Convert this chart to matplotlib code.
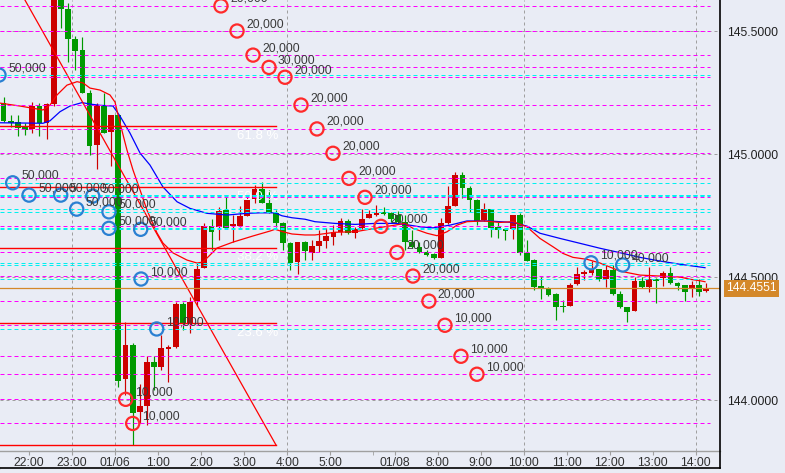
import matplotlib
matplotlib.use('Agg')
import matplotlib.pyplot as plt
import numpy as np
from matplotlib.lines import Line2D

plt.rcParams['font.family'] = ['Liberation Sans', 'DejaVu Sans']

# ---------------- data (10-minute candles, index 0 = 01/06 0:00) ----------------
candle_idx = list(range(-16, 83))
opens = [145.207, 145.136, 145.132, 145.110, 145.101, 145.196, 145.126, 145.204, 145.660, 145.589,
         145.467, 145.424, 145.250, 145.038, 145.196, 145.092, 145.160, 144.085, 144.225, 143.953,
         143.978, 144.155, 144.135, 144.210, 144.216, 144.391, 144.310, 144.403, 144.538, 144.708,
         144.705, 144.773, 144.708, 144.708, 144.750, 144.818, 144.859, 144.802, 144.762, 144.721,
         144.639, 144.563, 144.642, 144.597, 144.628, 144.647, 144.665, 144.685, 144.729, 144.681,
         144.700, 144.740, 144.753, 144.764, 144.761, 144.753, 144.725, 144.643, 144.624, 144.604,
         144.593, 144.579, 144.719, 144.791, 144.916, 144.864, 144.814, 144.733, 144.777, 144.705,
         144.692, 144.696, 144.753, 144.597, 144.570, 144.464, 144.455, 144.432, 144.382, 144.383,
         144.471, 144.515, 144.516, 144.532, 144.492, 144.529, 144.431, 144.378, 144.364, 144.486,
         144.462, 144.493, 144.496, 144.518, 144.478, 144.469, 144.451, 144.469, 144.445]
highs = [145.234, 145.160, 145.160, 145.126, 145.214, 145.208, 145.208, 145.688, 145.708, 145.615,
         145.481, 145.475, 145.261, 145.208, 145.248, 145.160, 145.162, 144.318, 144.233, 144.066,
         144.180, 144.180, 144.265, 144.225, 144.399, 144.399, 144.420, 144.558, 144.721, 144.737,
         144.786, 144.830, 144.753, 144.790, 144.826, 144.875, 144.888, 144.855, 144.773, 144.725,
         144.643, 144.643, 144.647, 144.651, 144.692, 144.700, 144.712, 144.741, 144.737, 144.705,
         144.777, 144.773, 144.794, 144.787, 144.765, 144.769, 144.753, 144.692, 144.645, 144.611,
         144.598, 144.741, 144.872, 144.929, 144.929, 144.871, 144.818, 144.802, 144.777, 144.726,
         144.700, 144.753, 144.761, 144.651, 144.574, 144.501, 144.460, 144.436, 144.408, 144.478,
         144.543, 144.529, 144.567, 144.533, 144.550, 144.550, 144.445, 144.379, 144.502, 144.502,
         144.540, 144.497, 144.527, 144.543, 144.481, 144.469, 144.486, 144.492, 144.475]
lows = [145.133, 145.110, 145.074, 145.078, 145.085, 145.074, 145.061, 145.196, 145.512, 145.376,
        145.342, 145.249, 144.997, 144.939, 145.086, 144.952, 144.054, 144.021, 143.818, 143.908,
        143.899, 144.042, 144.123, 144.074, 144.212, 144.286, 144.273, 144.383, 144.538, 144.611,
        144.651, 144.696, 144.643, 144.706, 144.749, 144.802, 144.800, 144.761, 144.704, 144.611,
        144.529, 144.513, 144.570, 144.570, 144.604, 144.619, 144.631, 144.672, 144.676, 144.661,
        144.698, 144.739, 144.751, 144.753, 144.725, 144.716, 144.611, 144.619, 144.598, 144.586,
        144.574, 144.578, 144.716, 144.790, 144.822, 144.766, 144.712, 144.729, 144.665, 144.661,
        144.651, 144.655, 144.590, 144.566, 144.448, 144.412, 144.424, 144.326, 144.360, 144.383,
        144.469, 144.489, 144.509, 144.486, 144.462, 144.428, 144.375, 144.319, 144.363, 144.456,
        144.441, 144.397, 144.464, 144.472, 144.448, 144.405, 144.421, 144.424, 144.441]
closes = [145.136, 145.128, 145.105, 145.099, 145.196, 145.128, 145.204, 145.660, 145.589, 145.467,
          145.421, 145.250, 145.034, 145.200, 145.088, 145.160, 144.079, 144.225, 143.949, 143.977,
          144.155, 144.135, 144.212, 144.216, 144.391, 144.310, 144.399, 144.533, 144.708, 144.684,
          144.770, 144.700, 144.716, 144.750, 144.814, 144.859, 144.802, 144.762, 144.721, 144.639,
          144.559, 144.643, 144.607, 144.628, 144.647, 144.668, 144.685, 144.729, 144.679, 144.696,
          144.737, 144.757, 144.762, 144.756, 144.737, 144.725, 144.642, 144.624, 144.601, 144.590,
          144.577, 144.719, 144.791, 144.916, 144.864, 144.814, 144.729, 144.777, 144.699, 144.692,
          144.690, 144.753, 144.597, 144.567, 144.459, 144.455, 144.428, 144.380, 144.380, 144.469,
          144.513, 144.516, 144.532, 144.492, 144.529, 144.431, 144.378, 144.360, 144.486, 144.459,
          144.492, 144.485, 144.518, 144.475, 144.464, 144.441, 144.469, 144.441, 144.4551]

# moving averages (candle index, price)
ma_fast_t = [-16.5, -13.71, -10.5, -9.53, -8.55, -7.16, -5.76, -4.92, -3.95, -2.55, -1.16, -0.46, 0.24,
             1.21, 2.05, 3.03, 4.0, 5.4, 6.23, 7.63, 9.58, 10.98, 11.81, 13.77, 16.0, 18.79, 21.16,
             21.86, 22.97, 24.23, 26.04, 27.43, 30.22, 33.01, 35.8, 38.59, 39.99, 41.1, 43.05, 44.45,
             45.84, 47.24, 48.63, 50.86, 53.24, 55.05, 57.0, 58.81, 60.63, 62.02, 63.41, 65.37, 67.18,
             69.97, 72.76, 75.55, 78.34, 79.74, 81.13, 81.83]
ma_fast_p = [145.208, 145.196, 145.180, 145.200, 145.241, 145.281, 145.295, 145.290, 145.269, 145.261,
             145.241, 145.212, 145.127, 145.017, 144.936, 144.855, 144.773, 144.680, 144.639, 144.599,
             144.570, 144.558, 144.562, 144.619, 144.643, 144.668, 144.688, 144.695, 144.685, 144.676,
             144.672, 144.672, 144.683, 144.685, 144.699, 144.712, 144.719, 144.699, 144.679, 144.669,
             144.685, 144.712, 144.726, 144.729, 144.723, 144.726, 144.705, 144.658, 144.624, 144.597,
             144.581, 144.573, 144.558, 144.525, 144.509, 144.505, 144.501, 144.492, 144.486, 144.482]
ma_slow_t = [-16.5, -10.5, -9.53, -8.13, -6.74, -5.06, -3.95, -2.55, -0.74, 0.24, 1.63, 3.03, 4.42,
             6.23, 8.19, 10.0, 12.37, 15.16, 17.95, 19.76, 21.86, 22.83, 24.23, 26.04, 27.43, 30.22,
             33.01, 35.8, 38.59, 39.99, 42.08, 43.89, 46.26, 48.63, 51.42, 53.24, 55.05, 57.0, 58.81,
             61.6, 64.4, 67.18, 69.97, 72.76, 75.55, 78.34, 81.83]
ma_slow_p = [145.128, 145.126, 145.136, 145.173, 145.196, 145.210, 145.204, 145.199, 145.196, 145.155,
             145.086, 145.005, 144.956, 144.867, 144.807, 144.780, 144.760, 144.753, 144.760, 144.762,
             144.762, 144.750, 144.742, 144.736, 144.726, 144.719, 144.715, 144.719, 144.719, 144.715,
             144.705, 144.701, 144.712, 144.729, 144.729, 144.726, 144.723, 144.708, 144.679, 144.658,
             144.638, 144.618, 144.600, 144.581, 144.566, 144.553, 144.539]

# Fibonacci retracement (anchor times and prices)
fib_t = [-18.6, 22.0]
fib_p = [145.915, 143.818]
fib_levels = [0.0, 23.6, 38.2, 50.0, 61.8, 100.0]
fib_labelled = [23.6, 38.2, 50.0, 61.8]

# order markers
red_t = [14.32, 16.56, 18.79, 21.02, 23.25, 25.48, 27.71, 29.94, 32.17, 34.40, 36.63, 38.86, 41.09,
         43.32, 45.56, 47.79, 50.02, 1.03, 2.01]
red_p = [145.603, 145.501, 145.403, 145.353, 145.313, 145.200, 145.103, 145.004, 144.902, 144.825,
         144.707, 144.601, 144.505, 144.403, 144.305, 144.179, 144.106, 144.004, 143.906]
red_lab = ['20,000', '20,000', '20,000', '30,000', '20,000', '20,000', '20,000', '20,000', '20,000',
           '20,000', '20,000', '20,000', '20,000', '20,000', '10,000', '10,000', '10,000', '10,000',
           '10,000']
blue_t = [-16.64, -14.73, -12.45, -8.03, -3.57, -5.80, -1.30, -1.30, 3.12, 3.17, 5.36, 65.93, 70.35]
blue_p = [145.322, 144.884, 144.834, 144.834, 144.830, 144.777, 144.766, 144.699, 144.695, 144.493,
          144.290, 144.559, 144.550]
blue_lab = ['50,000'] * 9 + ['10,000', '10,000', '10,000', '40,000']

last_price = 144.4551
ytick_vals = [144.0, 144.5, 145.0, 145.5]
xtick_idx = [-12, -6, 0, 6, 12, 18, 24, 30, 39, 45, 51, 57, 63, 69, 75, 81]
xtick_lab = ['22:00', '23:00', '01/06', '1:00', '2:00', '3:00', '4:00', '5:00', '01/08', '8:00',
             '9:00', '10:00', '11:00', '12:00', '13:00', '14:00']
vgrid_idx = [-6, 0, 24, 57, 81]

# ---------------- styling ----------------
W, H = 785, 473
BG = '#e9ecf5'
RED = '#cc0000'
GREEN = '#009900'
ORANGE = '#d4882a'
GRID = '#a0a0a0'
TXT = '#3a3a3a'
FS = 8.7
PX = 0.72  # one pixel in points

fig = plt.figure(figsize=(W / 100, H / 100), dpi=100)
fig.patch.set_facecolor(BG)
ax = fig.add_axes([0, 22 / H, 720 / W, 451 / H])
ax.set_facecolor(BG)
ax.set_xlim(-16.5, 83.92)
ax.set_ylim(143.794, 145.627)

for s in ['top', 'left', 'right']:
    ax.spines[s].set_visible(False)
ax.spines['bottom'].set_color(GRID)
ax.spines['bottom'].set_linewidth(1.0)

# grid
for g in ytick_vals:
    ax.axhline(g, color=GRID, lw=PX, ls=(0, (3, 3)), zorder=1, snap=True)
for v in vgrid_idx:
    ax.axvline(v - 0.45, color=GRID, lw=PX, ls=(0, (3, 3)), zorder=1, snap=True)

# candles
o = np.array(opens); h = np.array(highs); l = np.array(lows); c = np.array(closes)
xi = np.array(candle_idx)
cols = np.where(c >= o, RED, GREEN)
ax.vlines(xi, l, h, colors=cols, lw=0.85, zorder=2)
ax.bar(xi, np.maximum(np.abs(c - o), 0.0045), bottom=np.minimum(o, c), width=0.8,
       color=cols, linewidth=0, zorder=2.1)

# moving averages
ax.plot(ma_slow_t, ma_slow_p, color='#0000ff', lw=0.9, zorder=3)
ax.plot(ma_fast_t, ma_fast_p, color='#ff0000', lw=0.9, zorder=3)

# fibonacci
hi, lo = fib_p
for lv in fib_levels:
    p = lo + (hi - lo) * lv / 100.0
    ax.plot(fib_t, [p, p], color='#ff0000', lw=1.0, zorder=3.2)
    if lv in fib_labelled:
        ax.annotate(f'{lv:.1f} %', (fib_t[1], p), xytext=(1.5, -2.5), textcoords='offset points',
                    ha='right', va='top', color='white', fontsize=9.5, zorder=3.3)
ax.plot(fib_t, fib_p, color='#ff0000', lw=0.9, zorder=3.2)

# order level lines
for p in red_p:
    ax.axhline(p, xmin=0, xmax=710 / 720, color='#ff00ff', lw=PX, ls=(0, (4, 3)),
               zorder=3.5, snap=True)
for p in blue_p:
    ax.axhline(p, xmin=0, xmax=710 / 720, color='#00f0f0', lw=PX, ls=(0, (4, 3)),
               zorder=3.5, snap=True)

# current price
ax.axhline(last_price, color=ORANGE, lw=0.9, zorder=3.6)
ax.text(1 + 6 / 720, last_price, f'{last_price:.4f}', transform=ax.get_yaxis_transform(),
        ha='left', va='center', color='white', fontsize=FS, clip_on=False,
        bbox=dict(boxstyle='square,pad=0.18', fc=ORANGE, ec='none'), zorder=10)

# markers
ax.scatter(red_t, red_p, s=90, facecolors='none', edgecolors='#ff2a2a', linewidths=1.6, zorder=5)
ax.scatter(blue_t, blue_p, s=90, facecolors='none', edgecolors='#2a80d2', linewidths=1.6, zorder=5)
for t, p, s in zip(red_t, red_p, red_lab):
    ax.annotate(s, (t, p), xytext=(6.5, 5), textcoords='offset points', ha='left', va='center',
                color=TXT, fontsize=FS, zorder=6, annotation_clip=False)
for t, p, s in zip(blue_t, blue_p, blue_lab):
    ax.annotate(s, (t, p), xytext=(6.5, 5), textcoords='offset points', ha='left', va='center',
                color=TXT, fontsize=FS, zorder=6, annotation_clip=False)

# axes ticks
ax.yaxis.tick_right()
ax.set_yticks(ytick_vals)
ax.set_yticklabels([f'{v:.4f}' for v in ytick_vals])
ax.tick_params(axis='y', length=0, pad=4.8, labelsize=FS, labelcolor='#202020')
ax.set_xticks([t - 0.45 for t in xtick_idx])
ax.set_xticklabels(xtick_lab)
ax.set_xticks([36 - 0.45], minor=True)
ax.tick_params(axis='x', which='both', length=3, color=GRID, pad=1.5, labelsize=FS,
               labelcolor='#303030')
ax.text(-18.45, -0.028, '21:00', transform=ax.get_xaxis_transform(), ha='center', va='top',
        fontsize=FS, color='#303030', clip_on=False)

# outer frame lines
fig.add_artist(Line2D([720 / W, 720 / W], [5 / H, 1], color='black', lw=1.2))
fig.add_artist(Line2D([0, 720 / W], [5 / H, 5 / H], color='black', lw=1.2))

fig.savefig('out.png', dpi=100, facecolor=BG)
